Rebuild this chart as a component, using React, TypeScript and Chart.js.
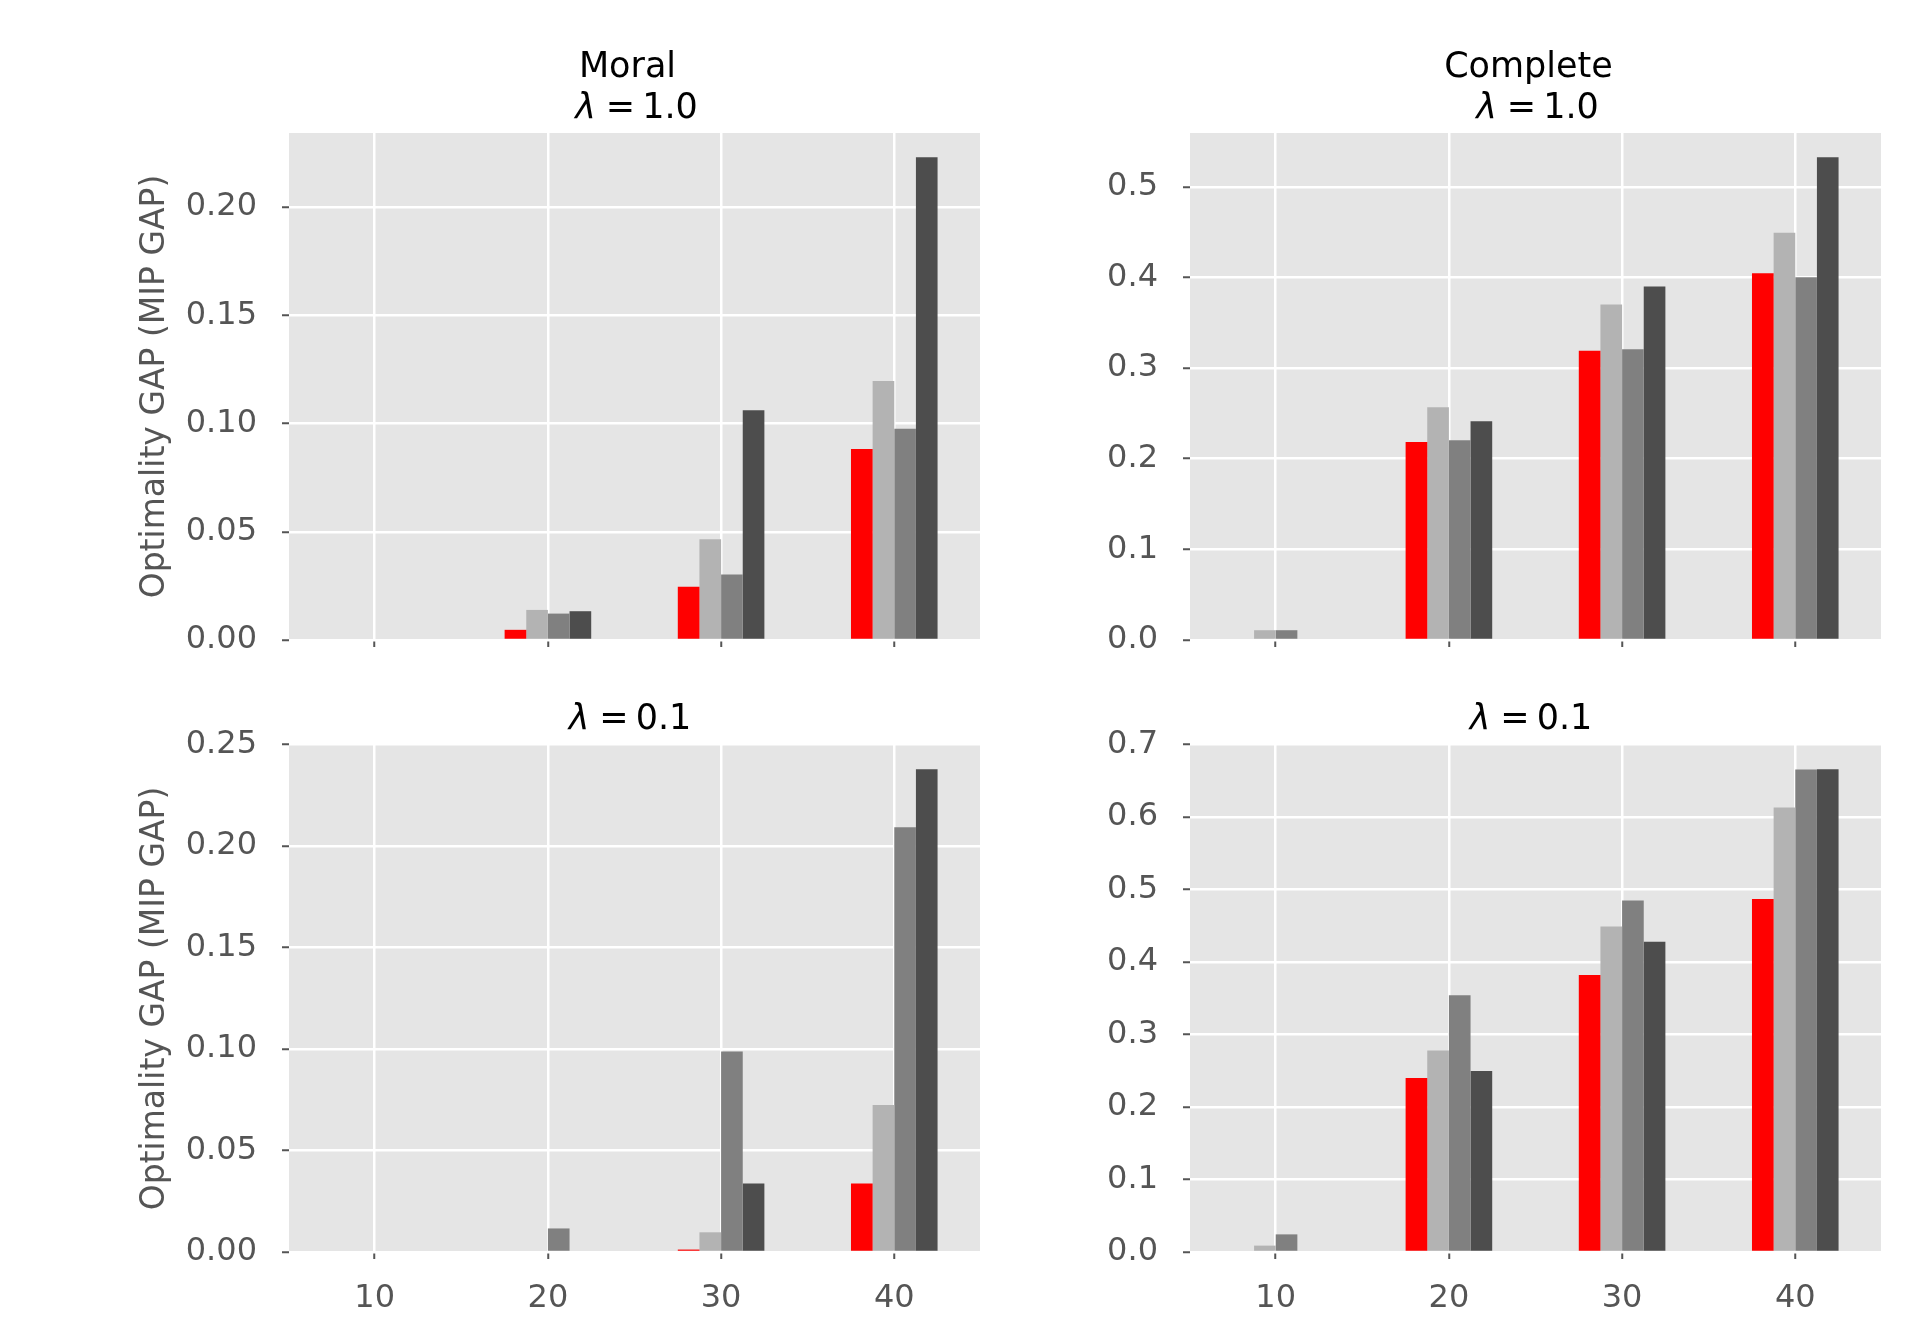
import React, { useEffect, useRef } from 'react';
import { Chart, registerables } from 'chart.js';

Chart.register(...registerables);

// Problem sizes on the x axis
const sizes = [10, 20, 30, 40];

// Bar colours, one per method (red, then three greys)
const seriesColors = ['#ff0000', '#b3b3b3', '#808080', '#4d4d4d'];
const seriesNames = ['Method A', 'Method B', 'Method C', 'Method D'];

// Optimality gap per method, one array per method, indexed by size
const moralLambda1A = [0, 0.0047, 0.0246, 0.0882];
const moralLambda1B = [0, 0.0139, 0.0466, 0.1197];
const moralLambda1C = [0, 0.0122, 0.0303, 0.0976];
const moralLambda1D = [0, 0.0133, 0.1062, 0.2231];

const completeLambda1A = [0, 0.2186, 0.3191, 0.4048];
const completeLambda1B = [0.0108, 0.2567, 0.3703, 0.4493];
const completeLambda1C = [0.0108, 0.2204, 0.3209, 0.4004];
const completeLambda1D = [0, 0.2415, 0.39, 0.5328];

const moralLambda01A = [0, 0, 0.0012, 0.0337];
const moralLambda01B = [0, 0, 0.0097, 0.0724];
const moralLambda01C = [0, 0.0116, 0.0987, 0.2092];
const moralLambda01D = [0, 0, 0.0337, 0.2378];

const completeLambda01A = [0, 0.2398, 0.3818, 0.4867];
const completeLambda01B = [0.0088, 0.2779, 0.4486, 0.6127];
const completeLambda01C = [0.0243, 0.3541, 0.4845, 0.6652];
const completeLambda01D = [0, 0.2497, 0.4276, 0.6657];

// Tick values for each panel's y axis
const moralTicksTop = [0, 0.05, 0.1, 0.15, 0.2];
const moralTicksBottom = [0, 0.05, 0.1, 0.15, 0.2, 0.25];
const completeTicksTop = [0, 0.1, 0.2, 0.3, 0.4, 0.5];
const completeTicksBottom = [0, 0.1, 0.2, 0.3, 0.4, 0.5, 0.6, 0.7];

const graphNames = ['Moral', 'Complete'];
const lambdaLabels = ['1.0', '0.1'];
const yAxisTitle = 'Optimality GAP (MIP GAP)';

const FONT = '"DejaVu Sans", "Noto Sans", sans-serif';
const TICK_COLOR = '#555555';

type Part = { text: string; italic?: boolean; gap?: number };
type TitleLine = { parts: Part[]; dx: number; dy: number };

const lambdaParts = (v: string): Part[] => [
  { text: 'λ', italic: true },
  { text: '=', gap: 10 },
  { text: v, gap: 7 },
];

// Draws the (possibly multi-line, mixed-style) panel title above the plot area
const panelTitlePlugin = {
  id: 'panelTitle',
  afterDraw(chart: any, _args: any, opts: any) {
    const { ctx, chartArea } = chart;
    const lines: TitleLine[] = opts.lines || [];
    const size = opts.size || 35;
    const cx = (chartArea.left + chartArea.right) / 2;
    ctx.save();
    ctx.fillStyle = '#000000';
    ctx.textBaseline = 'alphabetic';
    ctx.textAlign = 'left';
    for (const line of lines) {
      let total = 0;
      const measured = line.parts.map((p) => {
        ctx.font = `${p.italic ? 'italic ' : ''}${size}px ${FONT}`;
        const w = ctx.measureText(p.text).width;
        total += (p.gap || 0) + w;
        return { ...p, w };
      });
      let x = cx + line.dx - total / 2;
      for (const p of measured) {
        x += p.gap || 0;
        ctx.font = `${p.italic ? 'italic ' : ''}${size}px ${FONT}`;
        ctx.fillText(p.text, x, chartArea.top + line.dy);
        x += p.w;
      }
    }
    ctx.restore();
  },
};

// Grey panel background behind the grid
const panelBackgroundPlugin = {
  id: 'panelBackground',
  beforeDraw(chart: any) {
    const { ctx, chartArea } = chart;
    ctx.save();
    ctx.fillStyle = '#e5e5e5';
    ctx.fillRect(chartArea.left, chartArea.top, chartArea.right - chartArea.left, chartArea.bottom - chartArea.top);
    ctx.restore();
  },
};

type Rect = { left: number; top: number; width: number; height: number };
type Area = { left: number; top: number; right: number; bottom: number };

type PanelProps = {
  series: number[][];
  yTicks: number[];
  decimals: number;
  title: TitleLine[];
  showYTitle: boolean;
  showXLabels: boolean;
  rect: Rect;
  area: Area;
};

function Panel({ series, yTicks, decimals, title, showYTitle, showXLabels, rect, area }: PanelProps) {
  const ref = useRef<HTMLCanvasElement | null>(null);

  useEffect(() => {
    if (!ref.current) return;
    const padLeft = showYTitle ? 139 : 0;
    const yMax = Math.max(...series.flat()) * 1.05;

    const gridCommon = {
      color: '#ffffff',
      lineWidth: 2.5,
      drawTicks: true,
      tickLength: 7,
      tickColor: TICK_COLOR,
      tickWidth: 2,
      offset: false,
    };

    const chart = new Chart(ref.current, {
      type: 'bar',
      data: {
        datasets: series.map((vals, i) => ({
          label: seriesNames[i],
          data: sizes.map((x, j) => ({ x, y: vals[j] })),
          backgroundColor: seriesColors[i],
          borderWidth: 0,
          categoryPercentage: 0.5,
          barPercentage: 1,
          grouped: true,
        })),
      },
      plugins: [panelBackgroundPlugin, panelTitlePlugin],
      options: {
        animation: false,
        responsive: false,
        devicePixelRatio: 1,
        layout: {
          padding: { left: padLeft, top: area.top, right: rect.width - area.right, bottom: 0 },
        },
        plugins: {
          legend: { display: false },
          tooltip: { enabled: false },
          panelTitle: { lines: title, size: 35 },
        } as any,
        scales: {
          x: {
            type: 'linear',
            min: 5.05,
            max: 44.95,
            offset: false,
            border: { display: false },
            grid: gridCommon,
            ticks: {
              color: TICK_COLOR,
              font: { family: FONT, size: 32 },
              padding: 20,
              maxRotation: 0,
              autoSkip: false,
              callback: (v: any) => (showXLabels ? String(v) : ''),
            },
            afterBuildTicks: (s: any) => {
              s.ticks = sizes.map((v) => ({ value: v }));
            },
            afterFit: (s: any) => {
              s.height = rect.height - area.bottom;
              s.paddingLeft = 0;
              s.paddingRight = 0;
            },
          },
          y: {
            type: 'linear',
            min: 0,
            max: yMax,
            border: { display: false },
            grid: gridCommon,
            title: {
              display: showYTitle,
              text: yAxisTitle,
              color: TICK_COLOR,
              font: { family: FONT, size: 33, lineHeight: 1 },
              padding: 0,
            },
            ticks: {
              color: TICK_COLOR,
              font: { family: FONT, size: 32 },
              padding: 25,
              autoSkip: false,
              callback: (v: any) => Number(v).toFixed(decimals),
            },
            afterBuildTicks: (s: any) => {
              s.ticks = yTicks.map((v) => ({ value: v }));
            },
            afterFit: (s: any) => {
              s.width = area.left - padLeft;
              s.paddingTop = 0;
              s.paddingBottom = 0;
            },
          },
        },
      } as any,
    });
    return () => chart.destroy();
  }, []);

  return (
    <canvas
      ref={ref}
      width={rect.width}
      height={rect.height}
      style={{ position: 'absolute', left: rect.left, top: rect.top, width: rect.width, height: rect.height }}
    />
  );
}

export default function App() {
  useEffect(() => {
    document.body.style.margin = '0';
  }, []);

  const leftArea = (top: number, bottom: number): Area => ({ left: 289, top, right: 980, bottom });
  const rightArea = (top: number, bottom: number): Area => ({ left: 190, top, right: 881, bottom });

  return (
    <div style={{ position: 'absolute', left: 0, top: 0, width: 1920, height: 1320, background: '#ffffff', overflow: 'hidden' }}>
      <Panel
        series={[moralLambda1A, moralLambda1B, moralLambda1C, moralLambda1D]}
        yTicks={moralTicksTop}
        decimals={2}
        title={[
          { parts: [{ text: graphNames[0] }], dx: -7, dy: -56 },
          { parts: lambdaParts(lambdaLabels[0]), dx: 2, dy: -15 },
        ]}
        showYTitle
        showXLabels={false}
        rect={{ left: 0, top: 0, width: 1000, height: 660 }}
        area={leftArea(133, 640)}
      />
      <Panel
        series={[completeLambda1A, completeLambda1B, completeLambda1C, completeLambda1D]}
        yTicks={completeTicksTop}
        decimals={1}
        title={[
          { parts: [{ text: graphNames[1] }], dx: -7, dy: -56 },
          { parts: lambdaParts(lambdaLabels[0]), dx: 2, dy: -15 },
        ]}
        showYTitle={false}
        showXLabels={false}
        rect={{ left: 1000, top: 0, width: 920, height: 660 }}
        area={rightArea(133, 640)}
      />
      <Panel
        series={[moralLambda01A, moralLambda01B, moralLambda01C, moralLambda01D]}
        yTicks={moralTicksBottom}
        decimals={2}
        title={[{ parts: lambdaParts(lambdaLabels[1]), dx: -4.5, dy: -16 }]}
        showYTitle
        showXLabels
        rect={{ left: 0, top: 660, width: 1000, height: 660 }}
        area={leftArea(85, 592)}
      />
      <Panel
        series={[completeLambda01A, completeLambda01B, completeLambda01C, completeLambda01D]}
        yTicks={completeTicksBottom}
        decimals={1}
        title={[{ parts: lambdaParts(lambdaLabels[1]), dx: -4.5, dy: -16 }]}
        showYTitle={false}
        showXLabels
        rect={{ left: 1000, top: 660, width: 920, height: 660 }}
        area={rightArea(85, 592)}
      />
    </div>
  );
}
